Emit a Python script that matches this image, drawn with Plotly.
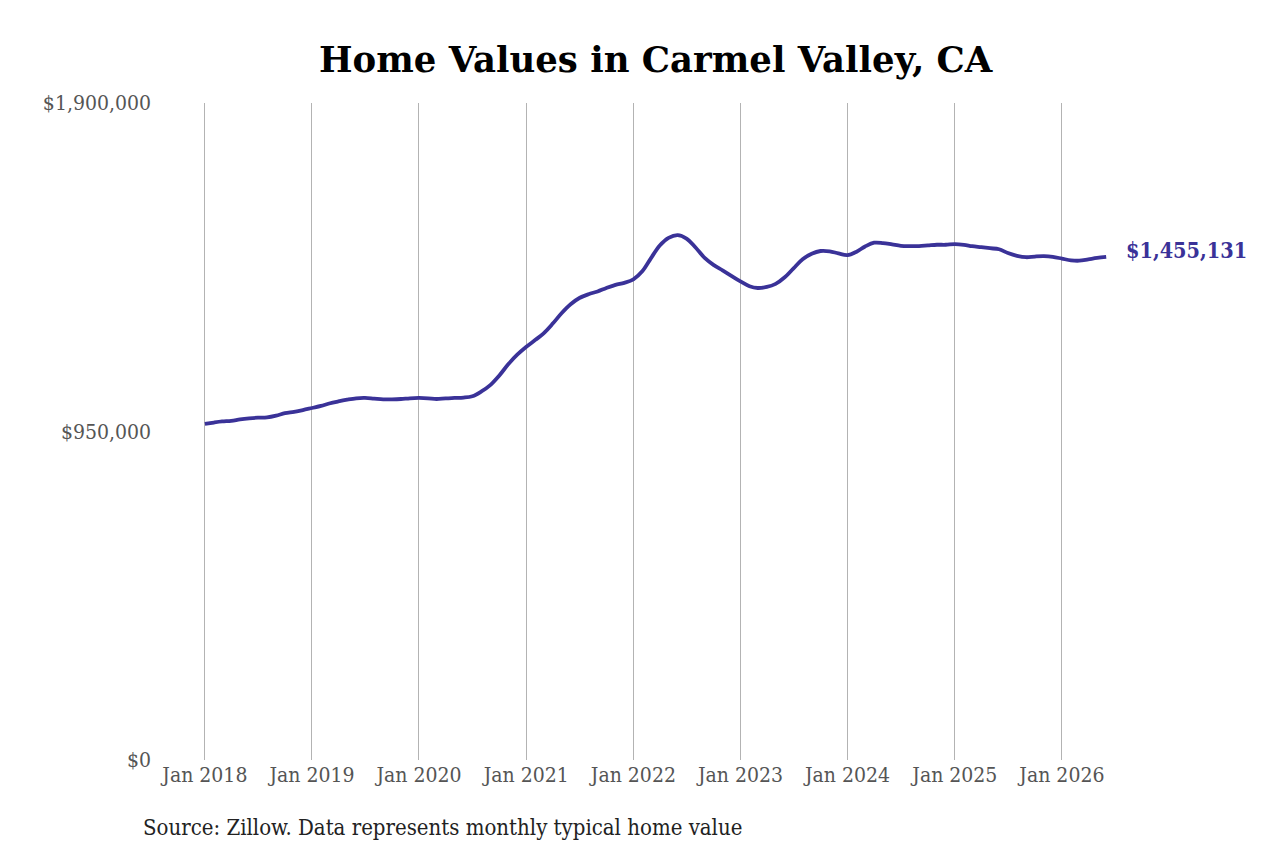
import pandas as pd
import plotly.graph_objects as go

# Typical home value, monthly, Jan 2018 - Jun 2026
months = pd.date_range('2018-01-01', '2026-06-01', freq='MS')
values = [
    972000, 976000, 979000, 981000, 985000, 988000, 990000, 991000, 996000, 1003000, 1007000, 1012000,
    1018000, 1024000, 1031000, 1037000, 1042000, 1046000, 1047000, 1045000, 1043000, 1043000, 1044000, 1046000,
    1047000, 1046000, 1044000, 1046000, 1047000, 1048000, 1052000, 1066000, 1085000, 1112000, 1145000, 1172000,
    1195000, 1215000, 1234000, 1262000, 1292000, 1318000, 1336000, 1347000, 1355000, 1365000, 1374000, 1380000,
    1390000, 1414000, 1450000, 1488000, 1510000, 1518000, 1508000, 1482000, 1452000, 1432000, 1416000, 1400000,
    1384000, 1370000, 1365000, 1368000, 1377000, 1396000, 1422000, 1448000, 1464000, 1472000, 1471000, 1465000,
    1460000, 1470000, 1485000, 1496000, 1495000, 1491000, 1487000, 1486000, 1486000, 1488000, 1490000, 1490000,
    1492000, 1490000, 1486000, 1483000, 1480000, 1477000, 1466000, 1458000, 1454000, 1456000, 1457000, 1455000,
    1450000, 1445000, 1444000, 1448000, 1452000, 1455131,
]
y_ticks = [0, 950000, 1900000]
y_tick_labels = ['$0', '$950,000', '$1,900,000']

line_color = '#3a3298'
serif = 'DejaVu Serif Condensed, DejaVu Serif, serif'

fig = go.Figure()
fig.add_trace(go.Scatter(x=months, y=values, mode='lines',
                         line=dict(color=line_color, width=3.8, shape='spline'),
                         hoverinfo='skip'))

# Last value label
fig.add_annotation(x=months[-1], y=values[-1], text=f'<b>${values[-1]:,.0f}</b>',
                   showarrow=False, xanchor='left', xshift=18, yshift=6,
                   font=dict(family=serif, size=21.5, color=line_color))

fig.update_layout(
    width=1280, height=853,
    paper_bgcolor='white', plot_bgcolor='white',
    margin=dict(l=152, r=178, t=95, b=101),
    showlegend=False,
    title=dict(text='<b>Home Values in Carmel Valley, CA</b>', x=0.506, xanchor='center',
               y=0.939, yanchor='middle',
               font=dict(family='DejaVu Serif, serif', size=35.5, color='black')),
)
fig.update_xaxes(range=['2017-08-01', '2026-06-14'], tick0='2018-01-01', dtick='M12',
                 tickformat='%b %Y', showgrid=True, gridcolor='#b3b3b3', gridwidth=1,
                 zeroline=False, showline=False, ticks='',
                 tickfont=dict(family=serif, size=21, color='#555555'))
fig.update_yaxes(range=[0, 1900000], tickvals=y_ticks, ticktext=y_tick_labels,
                 showgrid=False, zeroline=False, showline=False, ticks='',
                 ticklabelstandoff=8,
                 tickfont=dict(family=serif, size=21, color='#555555'))

fig.add_annotation(text='Source: Zillow. Data represents monthly typical home value',
                   xref='paper', yref='paper', x=-0.02, y=-0.1035, xanchor='left', yanchor='middle',
                   showarrow=False, font=dict(family=serif, size=22, color='#222222'))

fig.write_html('out.html')
